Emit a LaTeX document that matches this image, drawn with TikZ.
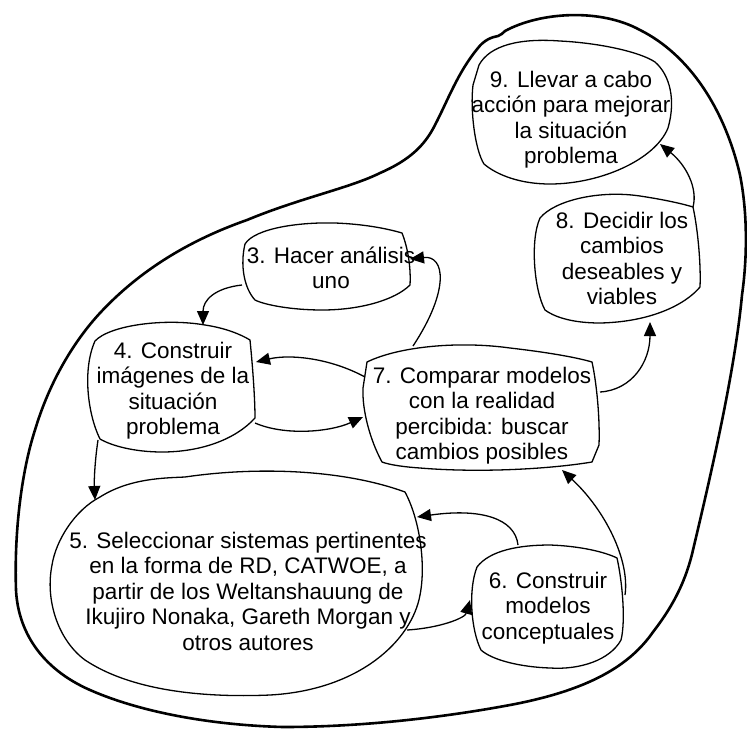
\documentclass[tikz,border=0pt]{standalone}
\usepackage{fontspec}
\setmainfont{Liberation Sans}
\usetikzlibrary{arrows.meta}
\newcommand\lnstrut{\rule{0pt}{22pt}}
\tikzset{
  blob/.style={draw=black, line width=1.3pt, line join=round},
  boundary/.style={draw=black, line width=2.6pt, line join=round},
  conn/.style={draw=black, line width=1.3pt, -{Triangle[length=14pt,width=12pt]}},
  txt/.style={anchor=north, align=center, inner sep=0pt,
    font=\fontsize{22.5}{25.5}\selectfont},
}
\begin{document}
\begin{tikzpicture}[x=1pt,y=-1pt]
\useasboundingbox (0,0) rectangle (747,729);

% enclosing boundary of the whole system
\draw[boundary] (505,31) .. controls (540,12) and (600,8) .. (640,30)
  .. controls (690,55) and (725,110) .. (740,175)
  .. controls (748,215) and (747,260) .. (742,295)
  .. controls (735,370) and (712,470) .. (693,550)
  .. controls (685,585) and (670,610) .. (653,632)
  .. controls (630,665) and (590,690) .. (510,705)
  .. controls (440,718) and (360,727) .. (283,727)
  .. controls (210,725) and (140,712) .. (90,690)
  .. controls (40,668) and (18,630) .. (16,590)
  .. controls (14,530) and (22,470) .. (35,430)
  .. controls (50,380) and (75,340) .. (100,313)
  .. controls (140,270) and (190,240) .. (247,220)
  .. controls (300,198) and (350,188) .. (380,173)
  .. controls (410,160) and (425,145) .. (435,125)
  .. controls (448,100) and (458,72) .. (478,48)
  .. controls (484,40) and (492,37) .. (498,36)
  .. controls (501,35) and (503,33) .. (505,31) -- cycle;

% hand-drawn outlines of the stages
\draw[blob] (479,65) .. controls (490,45) and (520,38) .. (560,41)
  .. controls (600,43) and (640,52) .. (655,62)
  .. controls (670,75) and (676,100) .. (668,128)
  .. controls (655,160) and (600,184) .. (550,184)
  .. controls (520,184) and (497,175) .. (484,164)
  .. controls (475,150) and (470,110) .. (473,85) -- cycle;
\draw[blob] (540,218) .. controls (555,200) and (600,190) .. (640,196)
  .. controls (660,199) and (680,203) .. (693,207)
  .. controls (698,230) and (701,265) .. (700,287)
  .. controls (685,305) and (650,322) .. (600,323)
  .. controls (570,323) and (553,316) .. (545,310)
  .. controls (534,290) and (530,240) .. (540,218) -- cycle;
\draw[blob] (245,244) .. controls (255,228) and (300,222) .. (335,223)
  .. controls (362,224) and (385,228) .. (402,233)
  .. controls (408,248) and (411,268) .. (410,285)
  .. controls (395,300) and (360,310) .. (322,310)
  .. controls (292,310) and (265,305) .. (255,300)
  .. controls (244,288) and (240,265) .. (245,244) -- cycle;
\draw[blob] (95,341) .. controls (110,325) and (165,318) .. (205,325)
  .. controls (225,328) and (240,334) .. (250,340)
  .. controls (253,370) and (255,400) .. (255,418)
  .. controls (235,440) and (200,452) .. (162,452)
  .. controls (135,452) and (112,446) .. (100,439)
  .. controls (88,415) and (82,370) .. (95,341) -- cycle;
\draw[blob] (367,362) .. controls (400,346) and (460,341) .. (510,348)
  .. controls (545,352) and (575,357) .. (592,362)
  .. controls (597,385) and (600,420) .. (599,445) -- (592,462)
  .. controls (550,469) and (480,473) .. (420,468)
  .. controls (405,467) and (390,465) .. (382,462)
  .. controls (370,440) and (362,410) .. (363,388) -- cycle;
\draw[blob] (100,497) .. controls (130,478) and (165,478) .. (185,477)
  .. controls (260,466) and (345,470) .. (405,492)
  .. controls (420,520) and (426,565) .. (420,595)
  .. controls (412,640) and (360,690) .. (270,695)
  .. controls (200,698) and (130,690) .. (85,660)
  .. controls (58,640) and (45,600) .. (52,565)
  .. controls (56,540) and (75,510) .. (100,497) -- cycle;
\draw[blob] (477,567) .. controls (490,550) and (520,545) .. (550,545)
  .. controls (580,546) and (605,552) .. (617,558)
  .. controls (622,580) and (626,620) .. (621,640)
  .. controls (610,660) and (580,670) .. (550,668)
  .. controls (520,667) and (492,660) .. (481,650)
  .. controls (471,630) and (468,590) .. (477,567) -- cycle;

% stage texts
\node[txt] (t9) at (571,65) {\lnstrut 9. Llevar a cabo\\acción para mejorar\\la situación\\problema};
\node[txt] (t8) at (622,206) {\lnstrut 8. Decidir los\\cambios\\deseables y\\viables};
\node[txt] (t3) at (331,241) {\lnstrut 3. Hacer análisis\\uno};
\node[txt] (t4) at (173,336) {\lnstrut 4. Construir\\imágenes de la\\situación\\problema};
\node[txt] (t7) at (482,361) {\lnstrut 7. Comparar modelos\\con la realidad\\percibida: buscar\\cambios posibles};
\node[txt] (t5) at (248,526) {\lnstrut 5. Seleccionar sistemas pertinentes\\en la forma de RD, CATWOE, a\\partir de los Weltanshauung de\\Ikujiro Nonaka, Gareth Morgan y\\otros autores};
\node[txt] (t6) at (548,566) {\lnstrut 6. Construir\\modelos\\conceptuales};

% connection points on the outlines
\coordinate (s3w) at (242,285);
\coordinate (s4n) at (203,325);
\coordinate (s7n) at (413,346);
\coordinate (s3e) at (410,259);
\coordinate (s7w) at (365,377);
\coordinate (s4e) at (256,362);
\coordinate (s4se) at (255,423);
\coordinate (s7sw) at (363,417);
\coordinate (s4sw) at (98,440);
\coordinate (s5nw) at (95,500);
\coordinate (s6n) at (518,545);
\coordinate (s5ne) at (417,517);
\coordinate (s5se) at (407,630);
\coordinate (s6w) at (470,600);
\coordinate (s6e) at (625,595);
\coordinate (s7s) at (562,470);
\coordinate (s7e) at (600,392);
\coordinate (s8s) at (650,322);
\coordinate (s8ne) at (693,207);
\coordinate (s9se) at (660,144);

% transitions between stages
\draw[conn] (s3w) .. controls (215,288) and (203,300) .. (s4n);
\draw[conn] (s7n) .. controls (450,290) and (445,255) .. (s3e);
\draw[conn] (s7w) .. controls (330,358) and (290,354) .. (s4e);
\draw[conn] (s4se) .. controls (285,436) and (330,432) .. (s7sw);
\draw[conn] (s4sw) .. controls (95,460) and (94,480) .. (s5nw);
\draw[conn] (s6n) .. controls (515,518) and (480,508) .. (s5ne);
\draw[conn] (s5se) .. controls (440,628) and (465,618) .. (s6w);
\draw[conn] (s6e) .. controls (630,560) and (605,510) .. (s7s);
\draw[conn] (s7e) .. controls (632,390) and (650,362) .. (s8s);
\draw[conn] (s8ne) .. controls (698,188) and (686,165) .. (s9se);
\end{tikzpicture}
\end{document}
